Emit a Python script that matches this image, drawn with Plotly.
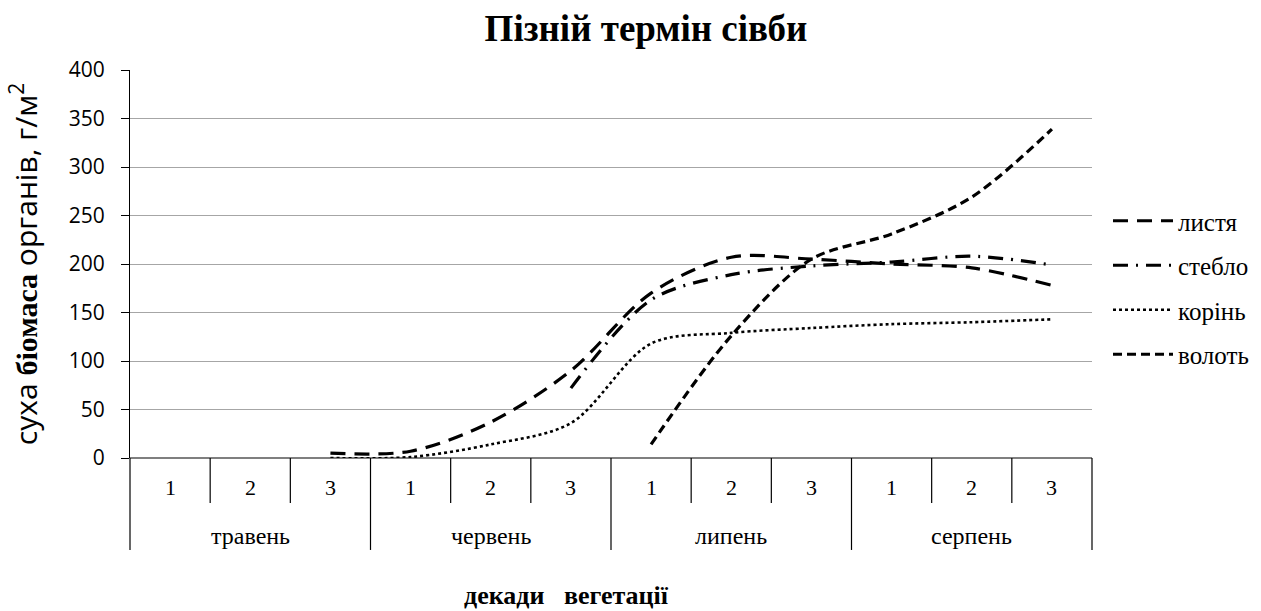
import plotly.graph_objects as go

# ---- data ----
decades = [1, 2, 3, 1, 2, 3, 1, 2, 3, 1, 2, 3]
months = ["травень", "червень", "липень", "серпень"]
x_idx = list(range(1, 13))

leaves = [None, None, 5, 7, 37, 90, 170, 207, 205, 200, 196, 178]
stems = [None, None, None, None, None, 72, 163, 189, 198, 202, 208, 199]
roots = [None, None, 0, 1, 14, 36, 118, 129, 134, 138, 140, 143]
panicles = [None, None, None, None, None, None, 14, 126, 205, 231, 269, 339]

series_names = ["листя", "стебло", "корінь", "волоть"]
series_values = [leaves, stems, roots, panicles]
series_dash = ["15px,9px", "15px,8px,2px,8px", "dot", "9px,5px"]
series_width = [3.2, 3.2, 2.6, 3.2]

SERIF = "Liberation Serif, Times New Roman, serif"
SANS = "Open Sans, Noto Sans, sans-serif"

fig = go.Figure()
for i, (name, vals) in enumerate(zip(series_names, series_values)):
    fig.add_trace(go.Scatter(
        x=x_idx, y=vals, name=name, mode="lines",
        line=dict(color="black", width=series_width[i], dash=series_dash[i],
                  shape="spline", smoothing=0.9),
        legendgroup=name,
    ))

n = len(x_idx)
shapes = []
shapes.append(dict(type="line", xref="paper", yref="paper", x0=0, x1=1, y0=0, y1=0,
                   line=dict(color="black", width=1.2)))
for k in range(n + 1):
    long_ = (k % 3 == 0)
    shapes.append(dict(type="line", xref="paper", yref="paper",
                       x0=k / n, x1=k / n, y0=0, y1=-0.237 if long_ else -0.116,
                       line=dict(color="black", width=1.2)))

annotations = []
for i, d in enumerate(decades):
    annotations.append(dict(xref="paper", yref="paper", x=(i + 0.5) / n, y=-0.077,
                            xanchor="center", yanchor="middle",
                            text=str(d), showarrow=False,
                            font=dict(family=SERIF, size=22, color="black")))
for j, m in enumerate(months):
    annotations.append(dict(xref="paper", yref="paper", x=(j * 3 + 1.5) / n, y=-0.2,
                            xanchor="center", yanchor="middle",
                            text=m, showarrow=False,
                            font=dict(family=SERIF, size=24, color="black")))
annotations.append(dict(xref="paper", yref="paper", x=(566 - 130) / 962, y=-(595 - 458) / 388,
                        xanchor="center", yanchor="middle",
                        text="<b>декади   вегетації</b>", showarrow=False,
                        font=dict(family=SERIF, size=26, color="black")))

fig.update_layout(
    width=1261, height=611,
    paper_bgcolor="white", plot_bgcolor="white",
    margin=dict(l=130, r=169, t=70, b=153, autoexpand=False),
    title=dict(text="<b>Пізній термін сівби</b>", x=646 / 1261, xanchor="center",
               y=1 - 28 / 611, yanchor="middle",
               font=dict(family=SERIF, size=37, color="black")),
    xaxis=dict(range=[0.5, 12.5], showticklabels=False, showgrid=False,
               zeroline=False, showline=False, ticks=""),
    yaxis=dict(range=[0, 400], dtick=50, showgrid=True, gridcolor="#a6a6a6",
               gridwidth=1, zeroline=False, showline=True, linecolor="black",
               linewidth=1.2, ticks="outside", ticklen=8, tickcolor="black",
               ticklabelstandoff=12,
               tickfont=dict(family=SANS, size=21, color="black"),
               title=dict(text="суха <span style=\"font-family:'Liberation Serif'\"><b>біомаса</b></span> органів, г/м<sup>2</sup>",
                          font=dict(family=SANS, size=30, color="black"),
                          standoff=22)),
    legend=dict(x=(1108 - 130) / 962, y=(458 - 198) / 388, xanchor="left", yanchor="top",
                font=dict(family=SERIF, size=25, color="black"),
                itemwidth=60,
                tracegroupgap=9, traceorder="grouped", bgcolor="rgba(0,0,0,0)"),
    shapes=shapes,
    annotations=annotations,
)

fig.write_html("out.html", config={"displayModeBar": False},
               post_script="document.body.style.margin='0';")
